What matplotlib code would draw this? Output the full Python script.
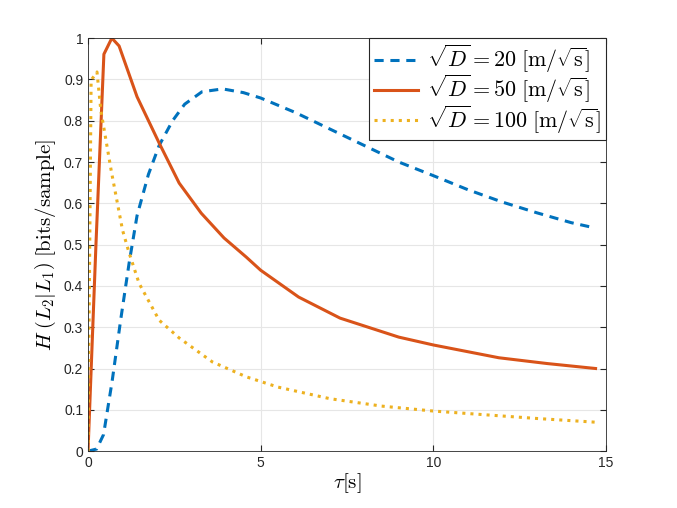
import matplotlib.pyplot as plt
import numpy as np

plt.rcParams['mathtext.fontset'] = 'cm'
plt.rcParams['font.family'] = ['Liberation Sans', 'DejaVu Sans']

# tau [s] and entropy values
tau_20 = [0, 0.25, 0.45, 0.7, 0.95, 1.19, 1.42, 1.75, 2.06, 2.45, 2.8, 3.3, 3.9,
          4.5, 5.0, 6.0, 7.0, 8.0, 9.0, 10.0, 11.0, 12.0, 13.0, 14.0, 14.7]
h_20 = [0, 0.005, 0.04, 0.17, 0.32, 0.455, 0.57, 0.67, 0.74, 0.80, 0.84, 0.87, 0.877,
        0.868, 0.855, 0.82, 0.78, 0.74, 0.70, 0.667, 0.633, 0.603, 0.577, 0.553, 0.54]

tau_50 = [0, 0.23, 0.46, 0.69, 0.9, 1.42, 2.06, 2.64, 3.28, 3.94, 4.58, 5.0, 6.1,
          7.3, 9.0, 10.0, 11.9, 13.3, 14.7]
h_50 = [0, 0.5, 0.961, 1.0, 0.981, 0.858, 0.746, 0.649, 0.576, 0.516, 0.47, 0.438,
        0.373, 0.322, 0.276, 0.257, 0.226, 0.212, 0.2]

tau_100 = [0, 0.09, 0.26, 0.37, 0.67, 1.0, 1.19, 1.48, 2.06, 2.64, 3.6, 4.58, 5.5,
           7.0, 8.5, 10.0, 11.5, 13.0, 14.7]
h_100 = [0, 0.898, 0.918, 0.826, 0.68, 0.535, 0.48, 0.406, 0.317, 0.274, 0.216,
         0.18, 0.155, 0.127, 0.109, 0.097, 0.088, 0.079, 0.07]

fig = plt.figure(figsize=(6.77, 5.08), dpi=100)
ax = fig.add_axes([0.13, 0.112, 0.765, 0.813])

ax.plot(tau_20, h_20, '--', color='#0072BD', lw=2.2, dashes=(3, 2.2),
        label=r'$\sqrt{D}=20\;[\mathrm{m}/\sqrt{\mathrm{s}}]$')
ax.plot(tau_50, h_50, '-', color='#D95319', lw=2.2,
        label=r'$\sqrt{D}=50\;[\mathrm{m}/\sqrt{\mathrm{s}}]$')
ax.plot(tau_100, h_100, ':', color='#EDB120', lw=2.2,
        label=r'$\sqrt{D}=100\;[\mathrm{m}/\sqrt{\mathrm{s}}]$')

ax.set_xlim(0, 15)
ax.set_ylim(0, 1)
ax.set_xticks([0, 5, 10, 15])
ax.set_yticks(np.arange(0, 1.01, 0.1))
ax.set_yticklabels(['0', '0.1', '0.2', '0.3', '0.4', '0.5', '0.6', '0.7', '0.8', '0.9', '1'])
ax.grid(True, color='#e6e6e6', lw=0.8)
ax.set_axisbelow(True)
ax.tick_params(direction='in', top=True, right=True, labelsize=10, colors='#262626',
               length=4)
for s in ax.spines.values():
    s.set_color('#262626')
    s.set_linewidth(0.6)

ax.set_xlabel(r'$\tau[\mathrm{s}]$', fontsize=15, labelpad=1)
ax.set_ylabel(r'$H\;\left(L_2|L_1\right)\;[\mathrm{bits/sample}]$', fontsize=15, labelpad=4)

leg = ax.legend(loc='upper right', fontsize=15.9, fancybox=False, framealpha=1,
                edgecolor='#262626', borderaxespad=0.0, handlelength=2.0,
                borderpad=0.22, labelspacing=-0.1, handletextpad=0.4)
leg.get_frame().set_linewidth(0.8)

fig.savefig('out.png', dpi=100)
